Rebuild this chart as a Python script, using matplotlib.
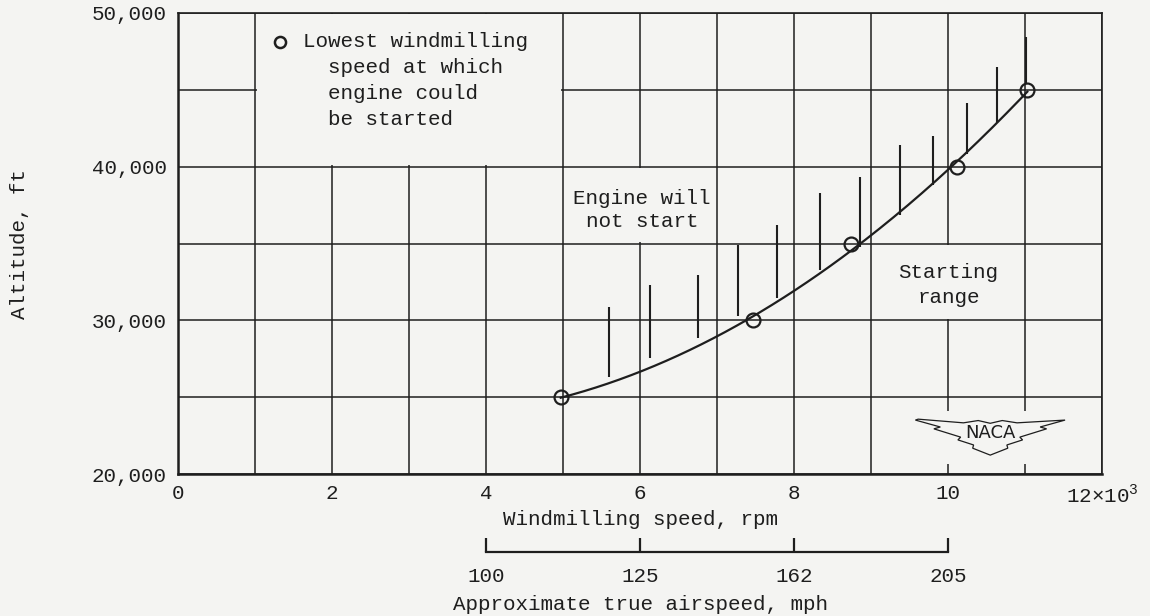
import numpy as np
import matplotlib.pyplot as plt
from matplotlib.patches import Polygon, Rectangle

# lowest windmilling speed at which the engine could be started
rpm_k = [4.97, 7.47, 8.74, 10.12, 11.03]
altitude = [25000, 30000, 35000, 40000, 45000]

# hatch strokes on the "will not start" side: x, bottom, top
hatch_x = [5.6, 6.13, 6.75, 7.27, 7.78, 8.34, 8.86, 9.38, 9.8, 10.25, 10.64, 11.01]
hatch_lo = [26300, 27550, 28850, 30280, 31450, 33250, 34770, 36850, 38800, 40820, 42840, 45440]
hatch_hi = [30870, 32300, 32950, 34900, 36200, 38280, 39320, 41400, 42000, 44140, 46480, 48430]

x_ticks = [0, 2, 4, 6, 8, 10, 12]
x_ticklabels = ["0", "2", "4", "6", "8", "10", r"12$\times$10$^3$"]
y_ticks = [20000, 30000, 40000, 50000]
y_ticklabels = ["20,000", "30,000", "40,000", "50,000"]

airspeed_pos = [4, 6, 8, 10]
airspeed_labels = ["100", "125", "162", "205"]

INK = "#1e1e1e"
BG = "#f4f4f2"
FS = 15
plt.rcParams["font.family"] = ["Liberation Mono", "DejaVu Sans Mono"]
plt.rcParams["mathtext.fontset"] = "custom"
plt.rcParams["mathtext.rm"] = "Liberation Mono"

fig = plt.figure(figsize=(11.5, 6.16), dpi=100, facecolor=BG)
ax = fig.add_axes([0.1548, 0.2305, 0.8035, 0.7484], facecolor=BG)

ax.set_xlim(0, 12)
ax.set_ylim(20000, 50000)
ax.set_xticks(np.arange(0, 13, 1), minor=True)
ax.set_yticks(np.arange(20000, 50001, 5000), minor=True)
ax.set_xticks(x_ticks)
ax.set_xticklabels(x_ticklabels)
ax.set_yticks(y_ticks)
ax.set_yticklabels(y_ticklabels)
ax.set_axisbelow(True)
ax.grid(which="both", color=INK, linewidth=1.1)
ax.tick_params(which="both", length=0, colors=INK, labelsize=FS, pad=8)
ax.tick_params(axis="x", pad=7)
for s in ax.spines.values():
    s.set_color(INK)
    s.set_linewidth(1.2)
ax.spines["left"].set_linewidth(1.8)
ax.spines["bottom"].set_linewidth(1.8)

ax.set_xlabel("Windmilling speed, rpm", fontsize=FS, color=INK, labelpad=2)
ax.set_ylabel("Altitude, ft", fontsize=FS, color=INK, labelpad=45)

# grid is left open where the notes are typed
for (x0, x1, y0, y1) in [(1, 5, 40000, 50000), (5, 7, 35000, 40000),
                         (9, 11, 30000, 35000), (9.5, 11.6, 20600, 24200)]:
    ax.add_patch(Rectangle((x0 + 0.02, y0 + 80), x1 - x0 - 0.04, y1 - y0 - 160,
                           facecolor=BG, edgecolor="none", zorder=1))

# faired curve through the data
coef = np.polyfit(rpm_k, altitude, 2)
xs = np.linspace(rpm_k[0], rpm_k[-1], 200)
ax.plot(xs, np.polyval(coef, xs), color=INK, linewidth=1.6, zorder=3)
ax.plot(rpm_k, altitude, "o", ms=10, mfc="none", mec=INK, mew=1.6, zorder=4)
ax.vlines(hatch_x, hatch_lo, hatch_hi, color=INK, linewidth=1.5, zorder=3)

# legend note
ax.plot([0.110], [0.937], "o", ms=8, mfc="none", mec=INK, mew=1.8,
        transform=ax.transAxes, zorder=4)
ax.text(0.135, 0.958, "Lowest windmilling\n  speed at which\n  engine could\n  be started",
        fontsize=FS, color=INK, va="top", ha="left", linespacing=1.45,
        transform=ax.transAxes, zorder=4)

ax.text(0.502, 0.573, "Engine will\nnot start", fontsize=FS, color=INK,
        ha="center", va="center", linespacing=1.3, transform=ax.transAxes, zorder=4)
ax.text(0.834, 0.41, "Starting\nrange", fontsize=FS, color=INK,
        ha="center", va="center", linespacing=1.4, transform=ax.transAxes, zorder=4)

# NACA wings mark (axes fraction)
right = [(0.960, 0.117), (0.933, 0.102), (0.940, 0.098), (0.911, 0.080),
         (0.914, 0.074), (0.897, 0.063), (0.898, 0.056), (0.879, 0.041)]
left = [(2 * 0.879 - x, y) for x, y in reversed(right[:-1])]
top = [(0.801, 0.119), (0.85, 0.111), (0.866, 0.116), (0.879, 0.110),
       (0.892, 0.116), (0.908, 0.111)]
wing = top + right + left
ax.add_patch(Polygon(wing, closed=True, fill=False, edgecolor=INK, linewidth=0.9,
                     transform=ax.transAxes, zorder=3))
ax.text(0.879, 0.088, "NACA", fontsize=13, family="DejaVu Sans", color=INK,
        ha="center", va="center", zorder=4, transform=ax.transAxes)

# airspeed scale
ax2 = fig.add_axes([0.1548, 0.1039, 0.8035, 0.001], facecolor="none")
ax2.set_xlim(0, 12)
ax2.set_yticks([])
for k in ["left", "right", "top"]:
    ax2.spines[k].set_visible(False)
ax2.spines["bottom"].set_bounds(airspeed_pos[0], airspeed_pos[-1])
ax2.spines["bottom"].set_linewidth(1.6)
ax2.spines["bottom"].set_color(INK)
ax2.set_xticks(airspeed_pos)
ax2.set_xticklabels(airspeed_labels)
ax2.tick_params(axis="x", direction="in", length=10, width=1.6, colors=INK,
                labelsize=FS, pad=11)
ax2.set_xlabel("Approximate true airspeed, mph", fontsize=FS, color=INK, labelpad=6)

fig.savefig("out.png", dpi=100, facecolor=BG)
